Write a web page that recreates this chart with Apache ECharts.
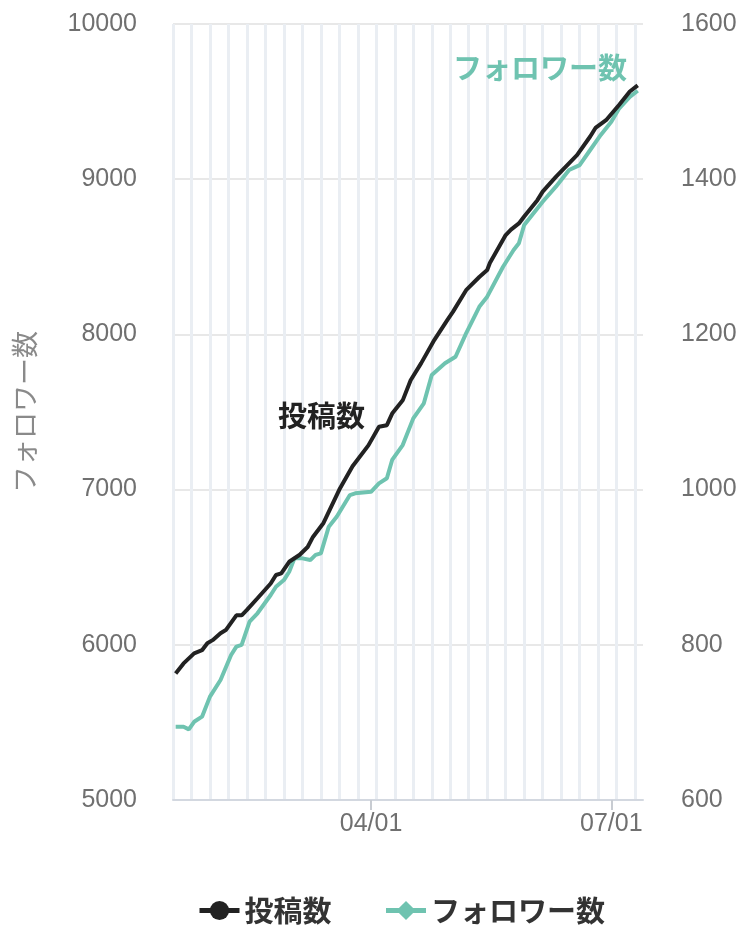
<!DOCTYPE html>
<html>
<head>
<meta charset="utf-8">
<script src="https://cdn.jsdelivr.net/npm/echarts@6/dist/echarts.min.js"></script>
<style>
  html, body { margin: 0; padding: 0; background: #fff; }
  #main { width: 750px; height: 934px; }
</style>
</head>
<body>
<div id="main"></div>
<script>
// 2023-01-16 (月) 〜 2023-07-13 の日付カテゴリ
var startMonth = 1, startDay = 16, endMonth = 7, endDay = 13;
var monthDays = [31, 28, 31, 30, 31, 30, 31];
var xLabels = ['04/01', '07/01'];

// 投稿数（右軸）
var postDates = ['01/17','01/20','01/24','01/27','01/29','01/31','02/03','02/05','02/09','02/11',
  '02/13','02/17','02/22','02/24','02/26','03/01','03/05','03/08','03/10','03/14',
  '03/20','03/25','03/31','04/04','04/07','04/09','04/13','04/16','04/20','04/25',
  '04/30','05/02','05/07','05/12','05/15','05/16','05/22','05/24','05/27','05/29',
  '06/03','06/05','06/10','06/18','06/23','06/25','06/29','07/04','07/08','07/11'];
var postCounts = [763, 776, 789, 793, 802, 806, 815, 819, 838, 838,
  845, 860, 879, 890, 892, 907, 916, 926, 939, 957,
  1000, 1030, 1057, 1081, 1083, 1098, 1115, 1141, 1163, 1193,
  1219, 1229, 1257, 1274, 1283, 1292, 1328, 1335, 1343, 1352,
  1373, 1384, 1403, 1431, 1455, 1466, 1476, 1496, 1513, 1521];

// フォロワー数（左軸）
var followerDates = ['01/17','01/20','01/22','01/24','01/27','01/30','02/03','02/07','02/09','02/11',
  '02/14','02/17','02/22','02/24','02/27','03/01','03/03','03/06','03/09','03/11',
  '03/13','03/16','03/19','03/24','03/26','04/01','04/04','04/07','04/09','04/13',
  '04/17','04/21','04/24','04/29','05/03','05/07','05/12','05/15','05/21','05/25',
  '05/27','05/29','06/05','06/10','06/15','06/19','06/23','06/27','07/01','07/04',
  '07/08','07/11'];
var followerCounts = [5472, 5472, 5455, 5504, 5537, 5666, 5773, 5934, 5988, 5999,
  6149, 6203, 6321, 6374, 6417, 6471, 6557, 6557, 6546, 6579,
  6589, 6761, 6825, 6965, 6976, 6986, 7040, 7073, 7191, 7287,
  7459, 7556, 7738, 7814, 7856, 8007, 8178, 8243, 8436, 8544,
  8587, 8705, 8855, 8952, 9059, 9091, 9188, 9285, 9370, 9457,
  9531, 9570];

function pad(n) { return (n < 10 ? '0' : '') + n; }

// 日ごとのカテゴリを作る
var categories = [];
for (var m = startMonth; m <= endMonth; m++) {
  var d0 = (m == startMonth) ? startDay : 1;
  var d1 = (m == endMonth) ? endDay : monthDays[m - 1];
  for (var d = d0; d <= d1; d++) {
    categories.push(pad(m) + '/' + pad(d));
  }
}

function pairs(dates, vals) {
  var arr = [];
  for (var i = 0; i < dates.length; i++) arr.push([dates[i], vals[i]]);
  return arr;
}

function isLabelDay(index, value) {
  return xLabels.indexOf(value) >= 0;
}

function plainNum(v) { return String(v); }

var numFont = '"Liberation Sans", Arial, sans-serif';
var jpFont = '"Noto Sans CJK JP", sans-serif';
var black = '#222222';
var teal = '#6fc3b0';

var myChart = echarts.init(document.getElementById('main'));

var option = {
  animation: false,
  grid: { left: 173, right: 107, top: 24, bottom: 134, outerBoundsMode: 'none' },
  legend: {
    bottom: 4,
    left: 192,
    itemWidth: 40,
    itemHeight: 24,
    itemGap: 52,
    lineStyle: { width: 5 },
    textStyle: { fontFamily: jpFont, fontSize: 29, fontWeight: 'bold', color: '#333' },
    data: ['投稿数', 'フォロワー数']
  },
  xAxis: {
    type: 'category',
    data: categories,
    boundaryGap: false,
    axisLine: { lineStyle: { color: '#d3d8e0', width: 2 } },
    axisTick: {
      show: true,
      interval: isLabelDay,
      length: 10,
      lineStyle: { color: '#c8ccd2', width: 2 }
    },
    axisLabel: {
      interval: isLabelDay,
      fontFamily: numFont,
      fontSize: 25,
      color: '#707070',
      margin: 12
    },
    splitLine: {
      show: true,
      interval: function (index) { return index % 7 == 0; },
      lineStyle: { color: '#eaeef3', width: 3 }
    }
  },
  yAxis: [{
    type: 'value',
    min: 5000,
    max: 10000,
    interval: 1000,
    name: 'フォロワー数',
    nameLocation: 'middle',
    nameGap: 135,
    nameTextStyle: { fontFamily: jpFont, fontSize: 27, color: '#8a8a8a' },
    axisLine: { show: false },
    axisTick: { show: false },
    axisLabel: { formatter: plainNum, fontFamily: numFont, fontSize: 25, color: '#707070', margin: 36 },
    splitLine: { lineStyle: { color: '#e8e8e8', width: 2 } }
  }, {
    type: 'value',
    min: 600,
    max: 1600,
    interval: 200,
    axisLine: { show: false },
    axisTick: { show: false },
    axisLabel: { formatter: plainNum, fontFamily: numFont, fontSize: 25, color: '#707070', margin: 38 },
    splitLine: { show: false }
  }],
  graphic: [{
    type: 'text',
    left: 278,
    top: 401,
    z: 100,
    style: { text: '投稿数', fontFamily: jpFont, fontSize: 29, fontWeight: 'bold', fill: black }
  }, {
    type: 'text',
    left: 453,
    top: 53,
    z: 100,
    style: { text: 'フォロワー数', fontFamily: jpFont, fontSize: 29, fontWeight: 'bold', fill: teal }
  }],
  series: [{
    name: '投稿数',
    type: 'line',
    yAxisIndex: 1,
    data: pairs(postDates, postCounts),
    symbol: 'circle',
    symbolSize: 20,
    showSymbol: false,
    itemStyle: { color: black },
    lineStyle: { color: black, width: 4 },
    z: 3
  }, {
    name: 'フォロワー数',
    type: 'line',
    yAxisIndex: 0,
    data: pairs(followerDates, followerCounts),
    symbol: 'diamond',
    symbolSize: 20,
    showSymbol: false,
    itemStyle: { color: teal },
    lineStyle: { color: teal, width: 4 },
    z: 2
  }]
};

myChart.setOption(option);
</script>
</body>
</html>
